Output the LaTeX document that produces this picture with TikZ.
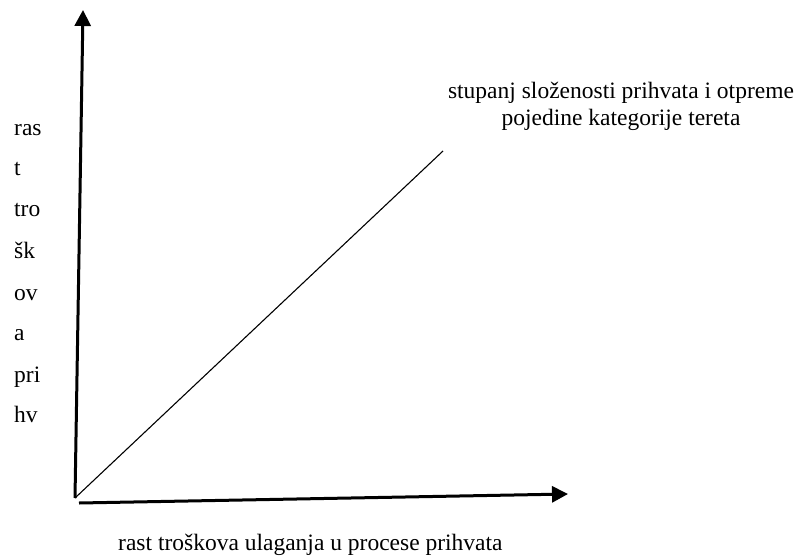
\documentclass[tikz,border=0pt]{standalone}
\usepackage{fontspec}
\setmainfont{Liberation Serif}
\usetikzlibrary{arrows.meta}
\tikzset{
  axis/.style={line width=3pt,-{Triangle[length=16pt,width=16pt]}},
  diag/.style={line width=1.1pt},
  lbl/.style={inner sep=0pt,font=\fontsize{23.5}{27}\selectfont},
  col/.style={lbl,anchor=base west}
}
\begin{document}
\begin{tikzpicture}[x=1pt,y=-1pt]
\useasboundingbox (0,0) rectangle (803,557);
\coordinate (O) at (75,498);
\coordinate (ytip) at (83,10);
\coordinate (xs) at (79,503);
\coordinate (xtip) at (568,494);
\coordinate (dtop) at (443,151);
\draw[axis] (O) -- (ytip);
\draw[axis] (xs) -- (xtip);
\draw[diag] (O) -- (dtop);
\node[lbl,anchor=base,align=center] (top) at (621,125) {stupanj složenosti prihvata i otpreme\\pojedine kategorije tereta};
\node[lbl,anchor=base west] (bot) at (118,550) {rast troškova ulaganja u procese prihvata};
\node[col] (c1) at (14,135) {ras};
\node[col] (c2) at (14,175) {t};
\node[col] (c3) at (14,216) {tro};
\node[col] (c4) at (14,258) {šk};
\node[col] (c5) at (14,300) {ov};
\node[col] (c6) at (14,340) {a};
\node[col] (c7) at (14,382) {pri};
\node[col] (c8) at (14,422) {hv};
\end{tikzpicture}
\end{document}
